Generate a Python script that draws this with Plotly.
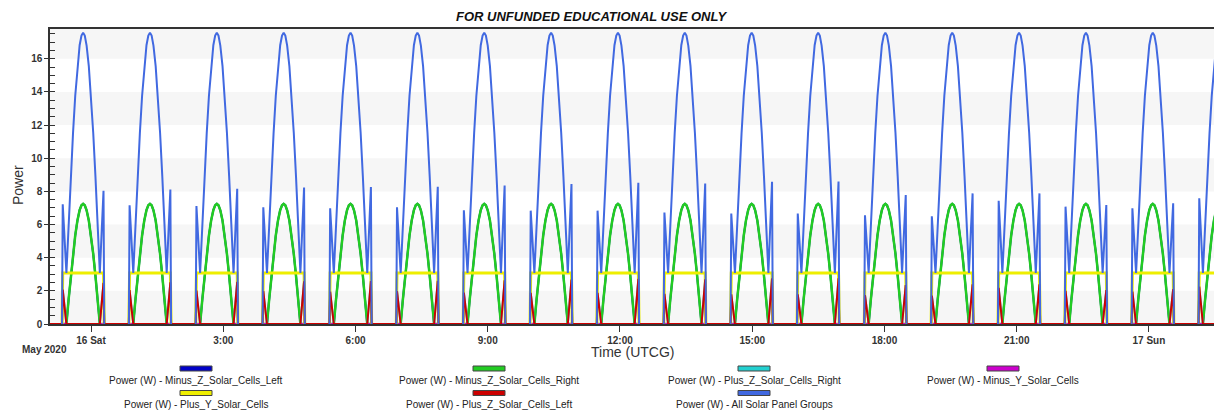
import pandas as pd
import plotly.graph_objects as go

# ---- data -------------------------------------------------------------
# Start of each sunlit pass (UTCG)
SUNRISE = [
    "2020-05-15 23:21:30", "2020-05-16 00:52:30", "2020-05-16 02:23:30",
    "2020-05-16 03:54:30", "2020-05-16 05:25:30", "2020-05-16 06:56:30",
    "2020-05-16 08:27:30", "2020-05-16 09:58:30", "2020-05-16 11:29:30",
    "2020-05-16 13:00:30", "2020-05-16 14:31:30", "2020-05-16 16:02:00",
    "2020-05-16 17:33:30", "2020-05-16 19:04:30", "2020-05-16 20:35:30",
    "2020-05-16 22:06:30", "2020-05-16 23:37:30", "2020-05-17 01:08:30",
]
# Plus_Z panel power (W) right after sunrise and right before sunset
PLUS_Z_AT_SUNRISE = [2.07, 2.04, 2.02, 1.98, 1.95, 1.98, 1.89, 1.88, 1.88,
                     1.82, 1.79, 1.79, 1.74, 1.71, 2.18, 2.00, 1.95, 2.25]
PLUS_Z_AT_SUNSET = [2.48, 2.52, 2.54, 2.58, 2.59, 2.60, 2.64, 2.68, 2.72,
                    2.70, 2.75, 2.76, 2.35, 2.40, 2.40, 2.05, 2.10, 2.20]

# Minutes from sunrise at which each pass is sampled
PASS_MINUTES = [-1, 0, 5, 8, 11, 14, 17, 20, 23, 25.5, 27.75, 30, 32.5,
                35.5, 38.5, 41.5, 44.5, 47.5, 50.5, 55.5, 56.5]
# Minus_Z panel power (W) over one pass
MINUS_Z_PASS = [0, 0, 0, 1.49, 2.92, 4.22, 5.34, 6.24, 6.87, 7.16, 7.25,
                7.16, 6.86, 6.24, 5.34, 4.23, 2.92, 1.49, 0, 0, 0]
# Plus_Y panel power (W) over one pass
PLUS_Y_PASS = [0] + [3.08] * 19 + [0]

X_START = "2020-05-15 23:04:10"
X_END = "2020-05-17 01:28:35"

TICK_TIMES = ["2020-05-16 00:00", "2020-05-16 03:00", "2020-05-16 06:00",
              "2020-05-16 09:00", "2020-05-16 12:00", "2020-05-16 15:00",
              "2020-05-16 18:00", "2020-05-16 21:00", "2020-05-17 00:00"]
TICK_LABELS = ["16 Sat", "3:00", "6:00", "9:00", "12:00", "15:00",
               "18:00", "21:00", "17 Sun"]

# name, colour, line width, drawn through eclipse
SERIES = [
    ("Power (W) - Minus_Z_Solar_Cells_Left", "#0000C8", 2.0, False),
    ("Power (W) - Minus_Z_Solar_Cells_Right", "#22CC22", 2.5, False),
    ("Power (W) - Plus_Z_Solar_Cells_Right", "#22D0D0", 2.0, True),
    ("Power (W) - Minus_Y_Solar_Cells", "#CC00CC", 2.0, True),
    ("Power (W) - Plus_Y_Solar_Cells", "#EEEE00", 3.0, False),
    ("Power (W) - Plus_Z_Solar_Cells_Left", "#CC0000", 2.0, True),
    ("Power (W) - All Solar Panel Groups", "#4169E1", 2.0, False),
]

# ---- build the time series ---------------------------------------------
# a None row after each pass marks the eclipse between passes
times = [pd.Timestamp(X_START)]
minus_z = [None]
plus_z = [0.0]
plus_y = [None]
for rise, z0, z1 in zip(SUNRISE, PLUS_Z_AT_SUNRISE, PLUS_Z_AT_SUNSET):
    t0 = pd.Timestamp(rise)
    times += [t0 + pd.Timedelta(minutes=m) for m in PASS_MINUTES]
    minus_z += MINUS_Z_PASS
    plus_y += PLUS_Y_PASS
    plus_z += [0, z0] + [0] * (len(PASS_MINUTES) - 4) + [z1, 0]
    times.append(t0 + pd.Timedelta(minutes=70))
    minus_z.append(None)
    plus_z.append(None)
    plus_y.append(None)
minus_y = [None if v is None else 0.0 for v in plus_z]

groups = [minus_z, minus_z, plus_z, minus_y, plus_y, plus_z]
total = []
for vals in zip(*groups):
    known = [v for v in vals if v is not None]
    total.append(sum(known) if vals[4] is not None else None)
values = groups + [total]

fig = go.Figure()
for (name, color, width, through), ys in zip(SERIES, values):
    fig.add_trace(go.Scatter(
        x=times, y=ys, name=name, mode="lines",
        line=dict(color=color, width=width), connectgaps=through,
        showlegend=False, hoverinfo="x+y+name",
    ))

Y_MAX = 17.8
FONT = "Liberation Sans, Arial, sans-serif"
TXT = "#333333"

# alternating horizontal bands
shapes = []
for lo in [0, 4, 8, 12, 16]:
    shapes.append(dict(type="rect", xref="paper", yref="y", x0=0, x1=1,
                       y0=lo, y1=min(lo + 2, Y_MAX), layer="below",
                       line=dict(width=0), fillcolor="#F6F6F6"))

# legend: swatch above each label, laid out on a grid
PLOT_L, PLOT_R, PLOT_T, PLOT_B = 50, 1214, 29, 324
def px_x(px):
    return (px - PLOT_L) / (PLOT_R - PLOT_L)
def px_y(py):
    return (PLOT_B - py) / (PLOT_B - PLOT_T)

COL_X = [196, 489, 754, 1003]
ROW_SWATCH_Y = [368.5, 393]
ROW_TEXT_Y = [380.5, 405]
annotations = []
for i, (name, color, _, _) in enumerate(SERIES):
    row, col = divmod(i, 4)
    cx = COL_X[col]
    shapes.append(dict(type="rect", xref="paper", yref="paper",
                       x0=px_x(cx - 16), x1=px_x(cx + 16),
                       y0=px_y(ROW_SWATCH_Y[row] + 2.5),
                       y1=px_y(ROW_SWATCH_Y[row] - 2.5),
                       fillcolor=color, line=dict(color="#444444", width=1)))
    annotations.append(dict(xref="paper", yref="paper", x=px_x(cx),
                            y=px_y(ROW_TEXT_Y[row]), text=name,
                            showarrow=False, xanchor="center",
                            yanchor="middle",
                            font=dict(family=FONT, size=10, color="#222222")))

annotations += [
    dict(xref="paper", yref="paper", x=px_x(591), y=px_y(17),
         text="<b><i>FOR UNFUNDED EDUCATIONAL USE ONLY</i></b>",
         showarrow=False, xanchor="center", yanchor="middle",
         font=dict(family=FONT, size=13, color="#111111")),
    dict(xref="paper", yref="paper", x=px_x(632), y=px_y(352),
         text="Time (UTCG)", showarrow=False, xanchor="center",
         yanchor="middle", font=dict(family=FONT, size=14, color=TXT)),
    dict(xref="paper", yref="paper", x=px_x(18), y=px_y(185),
         text="Power", textangle=-90, showarrow=False, xanchor="center",
         yanchor="middle", font=dict(family=FONT, size=14, color=TXT)),
    dict(xref="paper", yref="paper", x=px_x(44), y=px_y(349),
         text="May 2020", showarrow=False, xanchor="center",
         yanchor="middle",
         font=dict(family=FONT, size=10, color=TXT, weight="bold")),
]

fig.update_layout(
    width=1214, height=411, autosize=False,
    margin=dict(l=PLOT_L, r=0, t=PLOT_T, b=411 - PLOT_B),
    paper_bgcolor="white", plot_bgcolor="white",
    shapes=shapes, annotations=annotations,
    showlegend=False,
)
fig.update_xaxes(
    type="date", range=[X_START, X_END],
    tickvals=TICK_TIMES, ticktext=TICK_LABELS,
    ticks="outside", ticklen=6, tickcolor="#333333",
    showgrid=False, zeroline=False,
    showline=True, linecolor="#333333", linewidth=1.5, mirror=True,
    tickfont=dict(family=FONT, size=10, color=TXT, weight="bold"),
)
fig.update_yaxes(
    range=[0, Y_MAX], dtick=2, tick0=0,
    ticks="outside", ticklen=4, tickcolor="#333333",
    minor=dict(dtick=0.5, ticks="inside", ticklen=5, tickcolor="#333333"),
    showgrid=False, zeroline=False,
    showline=True, linecolor="#333333", linewidth=1.5,
    tickfont=dict(family=FONT, size=10, color=TXT, weight="bold"),
)

fig.write_html("out.html")
